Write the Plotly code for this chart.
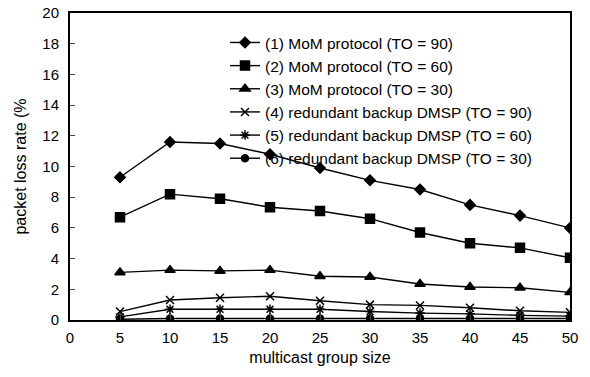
import plotly.graph_objects as go

group_size = [5, 10, 15, 20, 25, 30, 35, 40, 45, 50]
names = [
    "(1) MoM protocol (TO = 90)",
    "(2) MoM protocol (TO = 60)",
    "(3) MoM protocol (TO = 30)",
    "(4) redundant backup DMSP (TO = 90)",
    "(5) redundant backup DMSP (TO = 60)",
    "(6) redundant backup DMSP (TO = 30)",
]
mom_90 = [9.3, 11.6, 11.5, 10.8, 9.9, 9.1, 8.5, 7.5, 6.8, 6.0]
mom_60 = [6.7, 8.2, 7.9, 7.35, 7.1, 6.6, 5.7, 5.0, 4.7, 4.05]
mom_30 = [3.1, 3.25, 3.2, 3.25, 2.85, 2.8, 2.35, 2.15, 2.1, 1.8]
dmsp_90 = [0.55, 1.3, 1.45, 1.55, 1.25, 1.0, 0.95, 0.8, 0.6, 0.5]
dmsp_60 = [0.2, 0.7, 0.7, 0.7, 0.7, 0.55, 0.45, 0.4, 0.3, 0.25]
dmsp_30 = [0.05, 0.1, 0.1, 0.1, 0.1, 0.1, 0.1, 0.1, 0.1, 0.1]

series = [mom_90, mom_60, mom_30, dmsp_90, dmsp_60, dmsp_30]
symbols = ["diamond", "square", "triangle-up", "x-thin-open", "asterisk-open", "circle"]
sizes = [8, 9, 9, 8, 8, 7]

fig = go.Figure()
for name, ys, sym, sz in zip(names, series, symbols, sizes):
    fig.add_trace(go.Scatter(
        x=group_size, y=ys, name=name, mode="lines+markers",
        line=dict(color="black", width=1.4),
        marker=dict(symbol=sym, size=sz, color="black",
                    line=dict(color="black", width=1.5)),
    ))

fig.update_layout(
    width=590, height=377,
    margin=dict(l=70, r=20, t=13, b=57),
    paper_bgcolor="white", plot_bgcolor="white",
    font=dict(family="Liberation Sans, Arial, sans-serif", size=15, color="black"),
    showlegend=True,
    legend=dict(x=0.31, y=0.958, xanchor="left", yanchor="top",
                bgcolor="rgba(0,0,0,0)", font=dict(size=15.5),
                tracegroupgap=0, itemwidth=30),
    xaxis=dict(range=[0, 50], dtick=5, tick0=0, ticks="inside", ticklen=5,
               showline=True, linecolor="black", linewidth=2, mirror=True,
               showgrid=False, zeroline=False, automargin=False,
               ticklabelstandoff=3, ticklabeloverflow="allow",
               title=dict(text="multicast group size", standoff=7,
                          font=dict(size=16))),
    yaxis=dict(range=[0, 20], dtick=2, tick0=0, ticks="inside", ticklen=5,
               showline=True, linecolor="black", linewidth=2, mirror=True,
               showgrid=False, zeroline=False, automargin=False,
               ticklabelstandoff=6, ticklabeloverflow="allow",
               title=dict(text="packet loss rate (%", standoff=12,
                          font=dict(size=16))),
)

# remove the default 8px page margin so the figure fills the window exactly
fig.write_html("out.html",
               config={"displayModeBar": False},
               post_script="document.body.style.margin='0';"
                           "document.body.style.overflow='hidden';")
